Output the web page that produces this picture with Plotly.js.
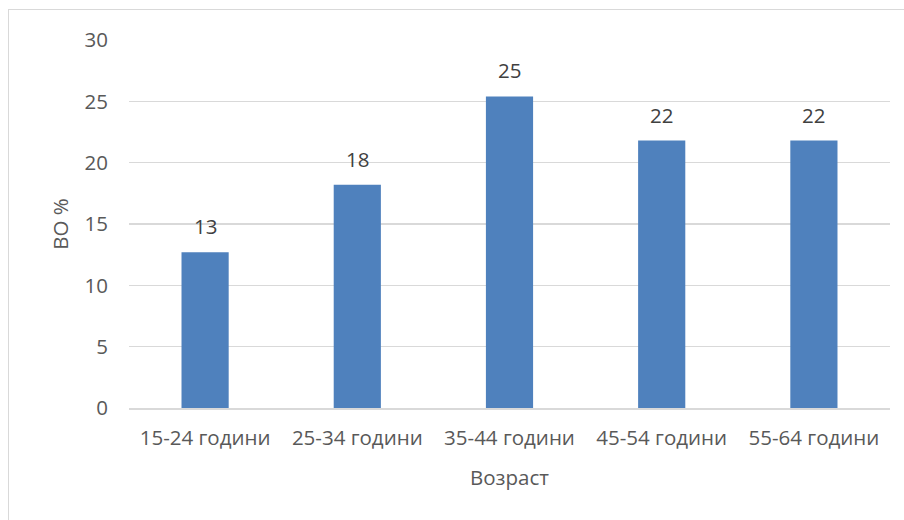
<!DOCTYPE html>
<html>
<head>
<meta charset="utf-8">
<script src="https://cdn.plot.ly/plotly-3.0.1.min.js"></script>
<style>
html,body{margin:0;padding:0;background:#fff;}
#frame{position:absolute;left:8px;top:9px;width:910px;height:530px;border:1.5px solid #d9d9d9;box-sizing:border-box;}
#chart{position:absolute;left:0;top:0;width:904px;height:520px;}
</style>
</head>
<body>
<div id="frame"></div>
<div id="chart"></div>
<script>
var categories = ['15-24 години', '25-34 години', '35-44 години', '45-54 години', '55-64 години'];
var values = [12.7, 18.2, 25.4, 21.8, 21.8];
var labels = ['13', '18', '25', '22', '22'];
var yTicks = [0, 5, 10, 15, 20, 25, 30];

var font = '"Open Sans", "Noto Sans", sans-serif';
var fs = 20.5;

var trace = {
  type: 'bar',
  x: categories,
  y: values,
  marker: {color: '#4f81bd'},
  hoverinfo: 'none'
};

var annotations = categories.map(function (c, i) {
  return {
    x: c, y: values[i], xref: 'x', yref: 'y',
    text: labels[i], showarrow: false,
    yanchor: 'bottom', yshift: 10,
    font: {family: font, size: fs, color: '#404040'}
  };
});

var layout = {
  width: 904, height: 520,
  margin: {l: 129, r: 14, t: 40, b: 112},
  paper_bgcolor: 'rgba(0,0,0,0)',
  plot_bgcolor: 'rgba(0,0,0,0)',
  bargap: 0.69,
  showlegend: false,
  font: {family: font, size: fs, color: '#595959'},
  xaxis: {
    type: 'category',
    showgrid: false,
    showline: true, linecolor: '#d9d9d9', linewidth: 1.5,
    ticks: '', ticklabelstandoff: 11,
    tickfont: {family: font, size: fs, color: '#595959'},
    title: {text: 'Возраст', font: {family: font, size: fs, color: '#595959'}, standoff: 20}
  },
  yaxis: {
    range: [0, 30],
    tickvals: yTicks,
    ticktext: yTicks.map(String),
    showgrid: true, gridcolor: '#d9d9d9', gridwidth: 1.5,
    zeroline: false, showline: false,
    ticks: '', ticklabelstandoff: 20,
    tickfont: {family: font, size: fs, color: '#595959'},
    title: {text: 'ВО %', font: {family: font, size: fs, color: '#595959'}, standoff: 10}
  },
  annotations: annotations
};

Plotly.newPlot('chart', [trace], layout, {displayModeBar: false, staticPlot: true});
</script>
</body>
</html>
